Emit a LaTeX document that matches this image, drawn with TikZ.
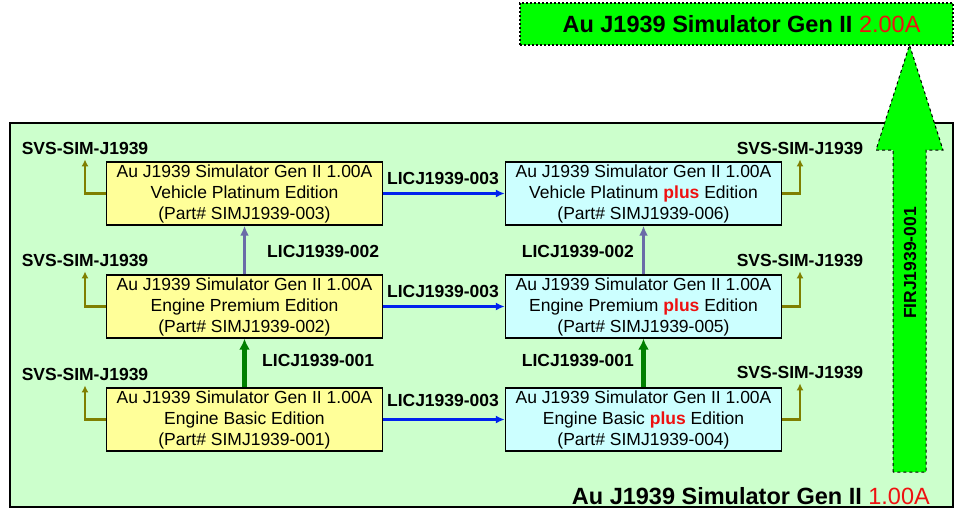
\documentclass[tikz,border=0pt]{standalone}
\usepackage{fontspec}
\setmainfont{Liberation Sans}
\usetikzlibrary{arrows.meta}

\definecolor{framegreen}{HTML}{CCFFCC}
\definecolor{brightgreen}{HTML}{00FF00}
\definecolor{baseyellow}{HTML}{FFFF99}
\definecolor{pluscyan}{HTML}{CCFFFF}
\definecolor{licblue}{HTML}{0022EE}
\definecolor{upgrey}{HTML}{6B6BA8}
\definecolor{updark}{HTML}{008000}
\definecolor{svsolive}{HTML}{7F7F00}
\definecolor{verred}{HTML}{EE1111}

\newcommand{\plusword}{\textcolor{verred}{\textbf{plus}}}

\tikzset{
  edition/.style={draw, line width=1.4pt, minimum width=276pt, minimum height=63pt,
    inner sep=0pt, align=center, font=\fontsize{17.5}{21}\selectfont},
  baseed/.style={edition, fill=baseyellow},
  plused/.style={edition, fill=pluscyan},
  lbl/.style={inner sep=1pt, font=\fontsize{17.5}{21}\selectfont\bfseries},
  licline/.style={licblue, line width=2.6pt, -{Latex[length=9pt,width=8pt]}},
  upline/.style={upgrey, line width=3.2pt, -{Latex[length=10pt,width=9pt]}},
  basicline/.style={updark, line width=4.5pt, -{Latex[length=11pt,width=11pt]}},
  svsline/.style={svsolive, line width=2.8pt, -{Latex[length=7pt,width=7pt]}, shorten >=4pt},
}

\begin{document}
\begin{tikzpicture}[x=1pt, y=-1pt]
  \useasboundingbox (0,0) rectangle (961,517);

  % Draw Gen II 1.00A frame
  \draw[line width=2.8pt, fill=framegreen] (10,123) rectangle (953,507);
  \node[lbl, font=\fontsize{23.5}{28}\selectfont\bfseries, anchor=east] (gen1) at (931,496)
    {Au J1939 Simulator Gen II \textcolor{verred}{\mdseries 1.00A}};

  % Draw Gen II 2.00A box
  \node[draw, dotted, line width=2pt, fill=brightgreen, minimum width=433pt, minimum height=42pt,
    font=\fontsize{23.5}{28}\selectfont\bfseries] (gen2) at (736.5,24)
    {\hspace{10pt}Au J1939 Simulator Gen II \textcolor{verred}{\mdseries 2.00A}};

  % Draw upgrade arrow to Gen II 2.00A
  \draw[dashed, line width=1pt, fill=brightgreen]
    (893,472) -- (893,150) -- (876,150) -- (909.5,45) -- (943,150)
    -- (926,150) -- (926,472) -- cycle;
  \node[lbl, rotate=90] (fir) at (910,263) {FIRJ1939-001};

  % Draw base editions
  \node[baseed] (vpe) at (244.5,193.5) {Au J1939 Simulator Gen II 1.00A\\Vehicle Platinum Edition\\(Part\# SIMJ1939-003)};
  \node[baseed] (epe) at (244.5,306.5) {Au J1939 Simulator Gen II 1.00A\\Engine Premium Edition\\(Part\# SIMJ1939-002)};
  \node[baseed] (ebe) at (244.5,419.5) {Au J1939 Simulator Gen II 1.00A\\Engine Basic Edition\\(Part\# SIMJ1939-001)};

  % Draw plus editions
  \node[plused] (vpp) at (643.5,193.5) {Au J1939 Simulator Gen II 1.00A\\Vehicle Platinum \plusword{} Edition\\(Part\# SIMJ1939-006)};
  \node[plused] (epp) at (643.5,306.5) {Au J1939 Simulator Gen II 1.00A\\Engine Premium \plusword{} Edition\\(Part\# SIMJ1939-005)};
  \node[plused] (ebp) at (643.5,419.5) {Au J1939 Simulator Gen II 1.00A\\Engine Basic \plusword{} Edition\\(Part\# SIMJ1939-004)};

  % Draw LICJ1939-003 arrows
  \foreach \b/\p/\y in {vpe/vpp/178, epe/epp/291, ebe/ebp/400}{
    \node[lbl] (lic-\p) at (443,\y) {LICJ1939-003};
    \draw[licline] (\b) -- (\p);
  }

  % Draw edition upgrades
  \draw[upline] (epe) -- (vpe);
  \draw[upline] (epp) -- (vpp);
  \draw[basicline] (ebe) -- (epe);
  \draw[basicline] (ebp) -- (epp);
  \node[lbl, anchor=west] (licl2) at (266,251) {LICJ1939-002};
  \node[lbl, anchor=east] (licr2) at (635,251) {LICJ1939-002};
  \node[lbl, anchor=west] (licl1) at (261,360) {LICJ1939-001};
  \node[lbl, anchor=east] (licr1) at (635,360) {LICJ1939-001};

  % Draw SVS-SIM-J1939 support
  \foreach \e/\x/\y in {vpe/85/148, epe/85/260, ebe/85/374, vpp/800/148, epp/800/260, ebp/800/372}{
    \node[lbl] (svs-\e) at (\x,\y) {SVS-SIM-J1939};
  }
  \foreach \e in {vpe, epe, ebe}
    \draw[svsline] (\e.west) -| (svs-\e.south);
  \foreach \e in {vpp, epp, ebp}
    \draw[svsline] (\e.east) -| (svs-\e.south);
\end{tikzpicture}
\end{document}
